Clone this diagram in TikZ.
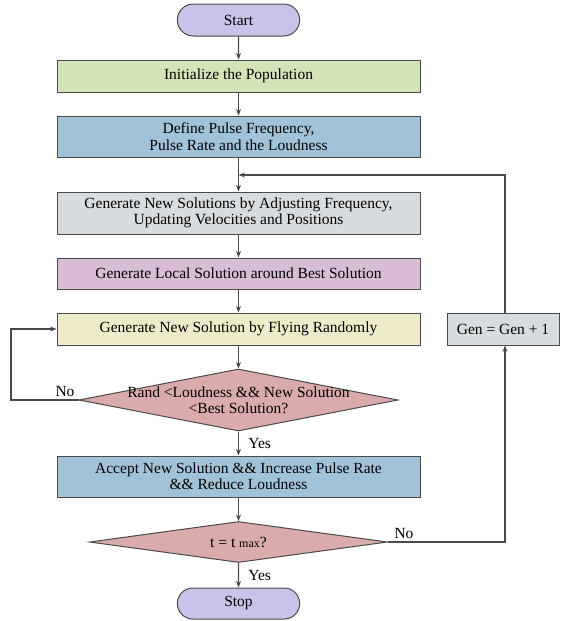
\documentclass[tikz,border=0pt]{standalone}
\usepackage{fontspec}
\setmainfont{Liberation Serif}
\usetikzlibrary{shapes.geometric, shapes.misc, arrows.meta}

\definecolor{lavender}{HTML}{C8C3E8}
\definecolor{palegreen}{HTML}{D5E4B8}
\definecolor{steelblue}{HTML}{A2C3D7}
\definecolor{lightgray}{HTML}{D9DCDE}
\definecolor{mauve}{HTML}{D8BDD4}
\definecolor{paleyellow}{HTML}{EEEBCB}
\definecolor{rose}{HTML}{D9ABAB}
\definecolor{edgegray}{HTML}{4A4A4A}

\begin{document}
\begin{tikzpicture}[x=1pt, y=-1pt,
	every node/.style={font=\fontsize{15.5}{16.3}\selectfont},
	box/.style={rectangle, draw=edgegray, line width=1pt, minimum width=363pt, minimum height=32pt, align=center},
	terminal/.style={rounded rectangle, draw=edgegray, line width=1pt, fill=lavender, minimum width=129pt, minimum height=32pt},
	decision/.style={diamond, draw=edgegray, line width=1pt, fill=rose, inner sep=0pt},
	flow/.style={draw=edgegray, line width=1.1pt, -{Stealth[length=6.5pt, width=5pt]}}]
	\useasboundingbox (0, 0) rectangle (568, 621);

	\node[terminal] (start) at (238.5, 20) {Start};
	\node[box, fill=palegreen] (init) at (238.5, 76) {Initialize the Population};
	\node[box, fill=steelblue, minimum height=41pt] (define) at (238.5, 136.5) {Define Pulse Frequency,\\Pulse Rate and the Loudness};
	\node[box, fill=lightgray, minimum height=42pt] (update) at (238.5, 213) {Generate New Solutions by Adjusting Frequency,\\Updating Velocities and Positions};
	\node[box, fill=mauve, minimum height=31pt] (local) at (238.5, 273.5) {Generate Local Solution around Best Solution};
	\node[box, fill=paleyellow] (fly) at (238.5, 329) {Generate New Solution by Flying Randomly};
	\node[decision, minimum width=319pt, minimum height=62pt,
		label={[align=center]center:Rand <Loudness \&\& New Solution\\<Best Solution?}] (check) at (238.5, 400) {};
	\node[box, fill=steelblue, minimum height=41pt] (accept) at (238.5, 476.5) {Accept New Solution \&\& Increase Pulse Rate\\\&\& Reduce Loudness};
	\node[decision, minimum width=298pt, minimum height=41pt,
		label={center:t = t {\fontsize{12}{14}\selectfont max}?}] (tmax) at (238.5, 542) {};
	\node[terminal, minimum height=31pt] (stop) at (238.5, 603.5) {Stop};

	\node[box, fill=lightgray, minimum width=112pt] (gen) at (503, 329) {Gen = Gen + 1};

	\coordinate (loop) at (238.5, 175);
	\coordinate (left) at (11, 400);
	\coordinate (right) at (505, 542);

	\draw[flow] (start) -- (init);
	\draw[flow] (init) -- (define);
	\draw[flow] (define) -- (update);
	\draw[flow] (update) -- (local);
	\draw[flow] (local) -- (fly);
	\draw[flow] (fly) -- (check);
	\draw[flow] (check) -- node[right, xshift=6pt] {Yes} (accept);
	\draw[flow] (accept) -- (tmax);
	\draw[flow] (tmax) -- node[right, xshift=6pt] {Yes} (stop);

	% no branches
	\draw[flow] (check.west) -- (left) |- (fly.west);
	\node (no-check) at (65, 391) {No};
	\draw[flow] (tmax.east) -- (right) -- (gen.south -| right);
	\node (no-tmax) at (404, 533) {No};
	\draw[flow] (gen.north -| right) |- (loop);
\end{tikzpicture}
\end{document}
